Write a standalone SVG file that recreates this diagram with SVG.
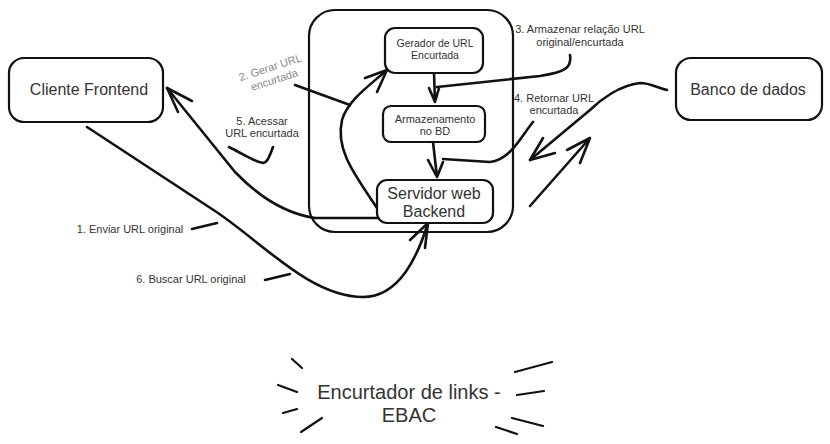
<svg xmlns="http://www.w3.org/2000/svg" width="830" height="444" viewBox="0 0 830 444">
<style>
.box{fill:#fff;stroke:#111;stroke-width:2.2}
.cont{fill:none;stroke:#111;stroke-width:2.2}
.c{fill:none;stroke:#111;stroke-width:2.6;stroke-linecap:round;stroke-linejoin:round}
.b{fill:none;stroke:#111;stroke-width:2.2;stroke-linecap:round}
text{font-family:"Liberation Sans",Arial,sans-serif;fill:#333;text-anchor:middle}
.big{font-size:16px}
.sm{font-size:11px}
.title{font-size:20px}
.gray{fill:#888}
</style>
<rect x="0" y="0" width="830" height="444" fill="#fff"/>
<g id="container">
<rect class="cont" x="309" y="10" width="204" height="222" rx="26"/>
</g>
<g id="connectors">
<path class="c" d="M87,127 L215,211 C262,242 310,297 363,297 C400,297 418,255 428,223"/>
<path class="c" d="M428,223 L410,240 M428,223 L425,248"/>
<path class="c" d="M377,218 L315,218 C288,214 262,200 235,172 L167,88"/>
<path class="c" d="M167,88 L192,101 M167,88 L178,112"/>
<path class="c" d="M229,147 C245,155 255,162 263,163 C268,162 270,155 273,147"/>
<path class="c" d="M377,208 C355,175 335,150 342,120 C348,100 370,85 387,70"/>
<path class="c" d="M387,70 L365,78 M387,70 L377,92"/>
<path class="c" d="M295,85 L350,105"/>
<path class="c" d="M434,73 L435,102 M435,102 L429,88 M435,102 L439,88"/>
<path class="c" d="M433,142 L437,177 M437,177 L428,160 M437,177 L443,162"/>
<path class="c" d="M570,55 C572,68 565,72 540,76 L437,87"/>
<path class="c" d="M533,122 C520,138 510,160 490,162 L443,159"/>
<path class="c" d="M667,90 C655,87 650,83 640,83 C620,85 600,100 590,110 L530,160"/>
<path class="c" d="M530,160 L543,138 M530,160 L555,153"/>
<path class="c" d="M530,206 L590,138 M590,138 L567,150 M590,138 L580,163"/>
</g>
<g id="cliente">
<rect class="box" x="9" y="58" width="154" height="64" rx="15"/>
<text class="big" x="89" y="95">Cliente Frontend</text>
</g>
<g id="banco">
<rect class="box" x="676" y="58" width="146" height="62" rx="15"/>
<text class="big" x="748" y="95">Banco de dados</text>
</g>
<g id="gerador">
<rect class="box" x="385" y="28" width="98" height="45" rx="10"/>
<text class="sm" x="435" y="47" style="font-size:10.5px">Gerador de URL</text>
<text class="sm" x="435" y="59" style="font-size:10.5px">Encurtada</text>
</g>
<g id="armazenamento">
<rect class="box" x="383" y="106" width="102" height="36" rx="8"/>
<text class="sm" x="435" y="123">Armazenamento</text>
<text class="sm" x="435" y="135">no BD</text>
</g>
<g id="servidor">
<rect class="box" x="377" y="180" width="116" height="43" rx="10"/>
<text class="big" x="434" y="199">Servidor web</text>
<text class="big" x="434" y="217">Backend</text>
</g>
<g id="labels">
<g transform="rotate(-18 272 73)">
<text class="sm gray" x="272" y="71">2. Gerar URL</text>
<text class="sm gray" x="272" y="84">encurtada</text>
</g>
<text class="sm" x="580" y="33">3. Armazenar relação URL</text>
<text class="sm" x="580" y="46">original/encurtada</text>
<text class="sm" x="554" y="102">4. Retornar URL</text>
<text class="sm" x="554" y="114">encurtada</text>
<text class="sm" x="262" y="125">5. Acessar</text>
<text class="sm" x="262" y="137">URL encurtada</text>
<text class="sm" x="130" y="233">1. Enviar URL original</text>
<path class="c" d="M192,229 L217,223"/>
<text class="sm" x="191" y="283">6. Buscar URL original</text>
<path class="c" d="M265,280 L290,274"/>
</g>
<g id="title">
<text class="title" x="409" y="399">Encurtador de links -</text>
<text class="title" x="409" y="422">EBAC</text>
<path class="b" d="M292,359 L302,368 M278,385 L297,392 M283,413 L297,409 M301,432 L322,418 M515,372 L552,362 M517,395 L544,391 M512,418 L543,426 M496,427 L517,434"/>
</g>
</svg>
